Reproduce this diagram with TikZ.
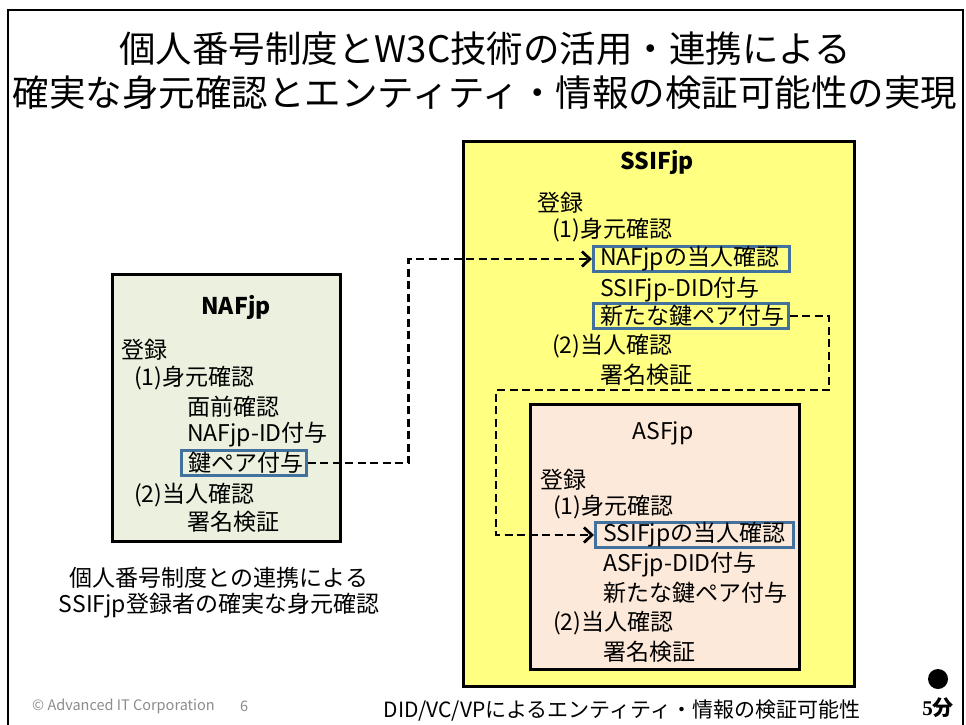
\documentclass[tikz,border=0pt]{standalone}
\usepackage{fontspec}
\setmainfont{Noto Sans CJK JP}
\newfontfamily\cjkbold{Noto Sans CJK JP Bold}
\newfontfamily\libserif{Liberation Serif}
\usetikzlibrary{arrows.meta}
\definecolor{nafc}{RGB}{235,241,222}
\definecolor{asfc}{RGB}{253,233,217}
\definecolor{ssifc}{RGB}{255,255,130}
\definecolor{sbord}{RGB}{65,113,156}
\definecolor{copyc}{RGB}{140,140,140}
\begin{document}
\begin{tikzpicture}[x=1pt,y=-1pt,
  bigbox/.style={draw=black, line width=2.8pt, anchor=north west, inner sep=0pt},
  txt/.style={anchor=west, inner sep=0pt, font=\fontsize{23}{28}\selectfont},
  head/.style={inner sep=0pt, font=\fontsize{23}{28}\selectfont},
  title/.style={inner sep=0pt, font=\fontsize{36.5}{40}\selectfont},
  smallbox/.style={draw=sbord, line width=2.5pt, anchor=west, inner xsep=7pt, inner ysep=0pt,
     minimum height=25pt, align=left, font=\fontsize{23}{28}\selectfont},
  link/.style={draw=black, line width=2.6pt, dash pattern=on 8pt off 4.5pt},
  arr/.style={-{Straight Barb[length=8pt,width=15pt,line width=2.8pt]}}
]
\useasboundingbox (0,0) rectangle (966,724);
\fill[white] (0,0) rectangle (966,724);
% outer frame
\draw[line width=2.4pt] (8,726) -- (8,10) -- (963,10) -- (963,726);

% title
\node[title] (t1) at (485,49) {個人番号制度とW3C技術の活用・連携による};
\node[title] (t2) at (485,93) {確実な身元確認とエンティティ・情報の検証可能性の実現};

% NAFjp box
\node[bigbox, fill=nafc, minimum width=228pt, minimum height=267pt] (naf) at (111,273) {};
\node[head, font=\fontsize{23}{28}\selectfont\bfseries] (naft) at (236,307) {NAFjp};
\node[txt] (nreg) at (121,350) {登録};
\node[txt] (nid1) at (134,378) {(1)身元確認};
\node[txt] (nface) at (187,407) {面前確認};
\node[txt] (nidg) at (187,435) {NAFjp-ID付与};
\node[smallbox, text width=111pt] (nafkey) at (180,463) {鍵ペア付与};
\node[txt] (nid2) at (134,495) {(2)当人確認};
\node[txt] (nsig) at (187,522) {署名検証};

\node[head] (nc1) at (219,578) {個人番号制度との連携による};
\node[head] (nc2) at (219,606) {SSIFjp登録者の確実な身元確認};

% SSIFjp box
\node[bigbox, fill=ssifc, minimum width=391pt, minimum height=545pt] (ssif) at (462,140) {};
\node[head, font=\fontsize{23}{28}\selectfont\bfseries] (ssift) at (657,162) {SSIFjp};
\node[txt] (sreg) at (537,203) {登録};
\node[txt] (sid1) at (552,230) {(1)身元確認};
\node[smallbox, text width=182pt] (ssnaf) at (592,259) {NAFjpの当人確認};
\node[txt] (sdid) at (600,290) {SSIFjp-DID付与};
\node[smallbox, text width=181pt] (sskey) at (592,316) {新たな鍵ペア付与};
\node[txt] (sid2) at (552,346) {(2)当人確認};
\node[txt] (ssig) at (600,375) {署名検証};

% ASFjp box
\node[bigbox, fill=asfc, minimum width=269pt, minimum height=265pt] (asf) at (529,403) {};
\node[head] (asft) at (663,433) {ASFjp};
\node[txt] (areg) at (540,480) {登録};
\node[txt] (aid1) at (553,507) {(1)身元確認};
\node[smallbox, inner xsep=8pt, text width=182pt] (asfss) at (594,535) {SSIFjpの当人確認};
\node[txt] (adid) at (603,565) {ASFjp-DID付与};
\node[txt] (akey) at (603,593) {新たな鍵ペア付与};
\node[txt] (aid2) at (553,623) {(2)当人確認};
\node[txt] (asig) at (603,652) {署名検証};

% connectors
\coordinate (c1) at (829,390);
\coordinate (c2) at (496,390);
\draw[link, arr] (nafkey.east) -- ++(101,0) |- (ssnaf.west);
\draw[link, arr] (sskey.east) -| (c1) -- (c2) |- (asfss.west);

% footer
\node[anchor=west, inner sep=0pt, text=copyc, font=\fontsize{14.5}{16}\selectfont] (copy) at (32,706) {© Advanced IT Corporation};
\node[anchor=west, inner sep=0pt, text=copyc, font=\fontsize{14.5}{16}\selectfont] (pg) at (240,706) {6};
\node[inner sep=0pt, font=\fontsize{21}{24}\selectfont] (foot) at (622,711) {DID/VC/VPによるエンティティ・情報の検証可能性};
\node[circle, fill=black, minimum size=20pt, inner sep=0pt] (dot) at (938,679) {};
\node[inner sep=0pt, font=\fontsize{21}{24}\selectfont] (five) at (938,708) {\libserif\bfseries 5\cjkbold 分};
\end{tikzpicture}
\end{document}
